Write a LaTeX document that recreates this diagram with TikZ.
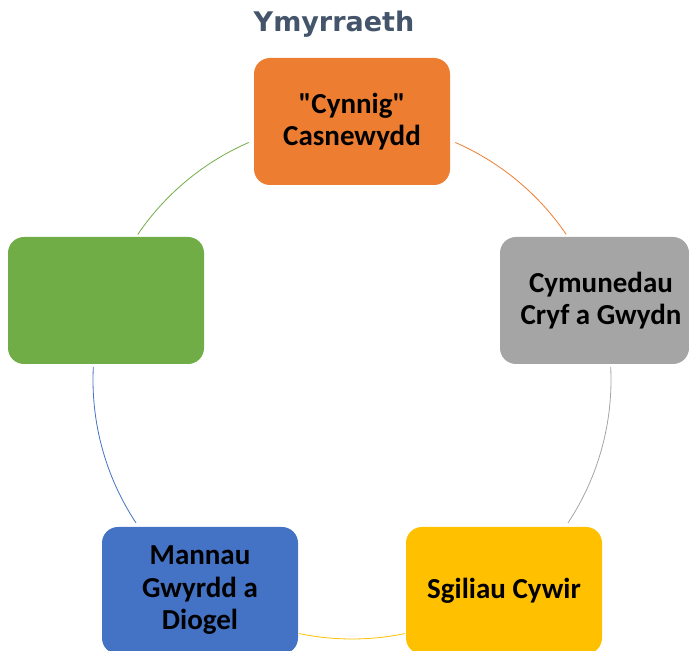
\documentclass[tikz,border=0pt]{standalone}
\usepackage{fontspec}
\setmainfont{Carlito}[Ligatures=TeXOff]
\newfontfamily\titlefont{DejaVu Sans}
\definecolor{cOrange}{HTML}{ED7D31}
\definecolor{cGray}{HTML}{A5A5A5}
\definecolor{cYellow}{HTML}{FFC000}
\definecolor{cBlue}{HTML}{4472C4}
\definecolor{cGreen}{HTML}{70AD47}
\definecolor{cTitle}{HTML}{44546A}
\begin{document}
\begin{tikzpicture}[x=1pt,y=1pt,
  cyclebox/.style={rectangle, rounded corners=16pt, minimum width=196pt, minimum height=127pt,
    inner sep=0pt, align=center, text=black, font=\bfseries\fontsize{29}{32.5}\selectfont},
  cyclearc/.style={line width=0.8pt}]
\useasboundingbox (0,0) rectangle (689,651);
\node[font=\titlefont\bfseries\fontsize{27}{30}\selectfont, text=cTitle] (title) at (334,626.5) {Ymyrraeth};
\coordinate (c) at (352,271);
\node[cyclebox, fill=cOrange] (orange) at (352,529.5) {"Cynnig"\\Casnewydd};
\node[cyclebox, fill=cGray, minimum width=189pt] (gray) at (594.5,350.5) {\hspace*{13pt}Cymunedau\\\hspace*{13pt}Cryf a Gwydn};
\node[cyclebox, fill=cYellow] (yellow) at (504,60.5) {Sgiliau Cywir};
\node[cyclebox, fill=cBlue] (blue) at (200,60.5) {Mannau\\Gwyrdd a\\Diogel};
\node[cyclebox, fill=cGreen] (green) at (106,350.5) {};
\draw[cyclearc, cOrange] ([shift={(66.5:259)}]c) arc[start angle=66.5, end angle=34.2, radius=259];
\draw[cyclearc, cGray] ([shift={(2.9:259)}]c) arc[start angle=2.9, end angle=-33.5, radius=259];
\draw[cyclearc, cYellow] ([shift={(-78.2:259)}]c) arc[start angle=-78.2, end angle=-101.8, radius=259];
\draw[cyclearc, cBlue] ([shift={(177.1:259)}]c) arc[start angle=177.1, end angle=213.5, radius=259];
\draw[cyclearc, cGreen] ([shift={(145.8:259)}]c) arc[start angle=145.8, end angle=113.5, radius=259];
\end{tikzpicture}
\end{document}
